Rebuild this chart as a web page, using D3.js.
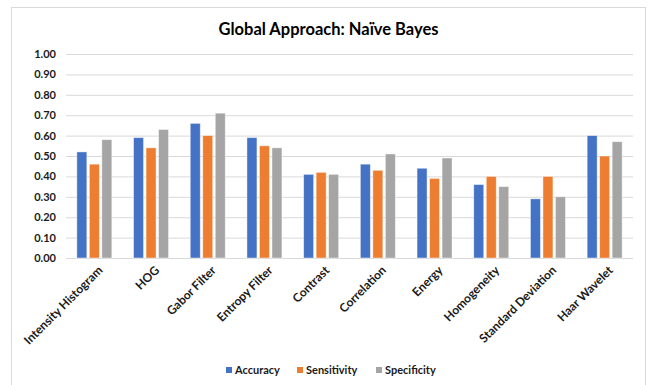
<!DOCTYPE html>
<html>
<head>
<meta charset="utf-8">
<script src="https://cdn.jsdelivr.net/npm/d3@7"></script>
<style>
  html, body { margin: 0; padding: 0; background: #fff; }
  svg { display: block; font-family: Lato, "Open Sans", sans-serif; }
</style>
</head>
<body>
<svg id="chart" width="653" height="385"></svg>
<script>
// Feature extraction methods evaluated with a Naïve Bayes classifier
const categories = ["Intensity Histogram", "HOG", "Gabor Filter", "Entropy Filter", "Contrast",
  "Correlation", "Energy", "Homogeneity", "Standard Deviation", "Haar Wavelet"];
const seriesNames = ["Accuracy", "Sensitivity", "Specificity"];
const accuracy    = [0.52, 0.59, 0.66, 0.59, 0.41, 0.46, 0.44, 0.36, 0.29, 0.60];
const sensitivity = [0.46, 0.54, 0.60, 0.55, 0.42, 0.43, 0.39, 0.40, 0.40, 0.50];
const specificity = [0.58, 0.63, 0.71, 0.54, 0.41, 0.51, 0.49, 0.35, 0.30, 0.57];
const yTicks = [0, 0.1, 0.2, 0.3, 0.4, 0.5, 0.6, 0.7, 0.8, 0.9, 1.0];
const colors = ["#4472C4", "#ED7D31", "#A5A5A5"];

const seriesValues = [accuracy, sensitivity, specificity];
const svg = d3.select("#chart");

// chart area frame
svg.append("rect")
  .attr("x", 11.5).attr("y", 7.5).attr("width", 634).attr("height", 385)
  .attr("fill", "#fff").attr("stroke", "#d9d9d9").attr("stroke-width", 1);

const plot = { left: 66, right: 633, top: 54, bottom: 258 };

const x = d3.scaleBand().domain(categories).range([plot.left, plot.right]).padding(0);
const xs = d3.scaleBand().domain(seriesNames).range([-17.5, 17.5]).paddingInner(0.2).paddingOuter(0);
const y = d3.scaleLinear().domain([0, 1]).range([plot.bottom, plot.top]);

// title
svg.append("text")
  .attr("x", 328.5).attr("y", 35)
  .attr("text-anchor", "middle")
  .attr("font-size", 16.5).attr("font-weight", 700).attr("fill", "#000")
  .text("Global Approach: Naïve Bayes");

// y axis with gridlines
const yAxis = svg.append("g")
  .attr("transform", `translate(${plot.left},0)`)
  .call(d3.axisLeft(y).tickValues(yTicks).tickFormat(d3.format(".2f"))
    .tickSize(-(plot.right - plot.left)).tickPadding(10));
yAxis.select(".domain").remove();
yAxis.selectAll(".tick line").attr("stroke", "#d9d9d9").attr("stroke-width", 1);
yAxis.selectAll(".tick text")
  .attr("font-family", "Lato, sans-serif")
  .attr("font-size", 11).attr("font-weight", 700).attr("fill", "#1a1a1a");

// bars
const groups = svg.append("g").selectAll("g")
  .data(categories)
  .join("g")
  .attr("transform", d => `translate(${x(d) + x.bandwidth() / 2},0)`);

groups.selectAll("rect")
  .data((c, i) => seriesNames.map((s, k) => ({ s, k, v: seriesValues[k][i] })))
  .join("rect")
  .attr("x", d => xs(d.s))
  .attr("width", xs.bandwidth())
  .attr("y", d => y(d.v))
  .attr("height", d => y(0) - y(d.v))
  .attr("fill", d => colors[d.k])
  .attr("stroke", "rgba(255,255,255,0.55)")
  .attr("stroke-width", 0.8);

// category labels, rotated
const xAxis = svg.append("g")
  .attr("transform", `translate(0,${plot.bottom})`)
  .call(d3.axisBottom(x).tickSize(0).tickPadding(0));
xAxis.select(".domain").remove();
xAxis.selectAll(".tick text")
  .attr("font-family", "Lato, sans-serif")
  .attr("font-size", 12).attr("font-weight", 700).attr("fill", "#1a1a1a")
  .attr("text-anchor", "end")
  .attr("dy", null)
  .attr("transform", "translate(9,13) rotate(-45)");

// legend
const legend = svg.append("g");
const legendStarts = [226, 297, 376];
seriesNames.forEach((name, k) => {
  const gx = legendStarts[k];
  legend.append("rect")
    .attr("x", gx).attr("y", 367).attr("width", 6).attr("height", 6)
    .attr("fill", colors[k]);
  legend.append("text")
    .attr("x", gx + 9).attr("y", 374)
    .attr("font-size", 11).attr("font-weight", 700).attr("fill", "#1a1a1a")
    .text(name);
});
</script>
</body>
</html>
